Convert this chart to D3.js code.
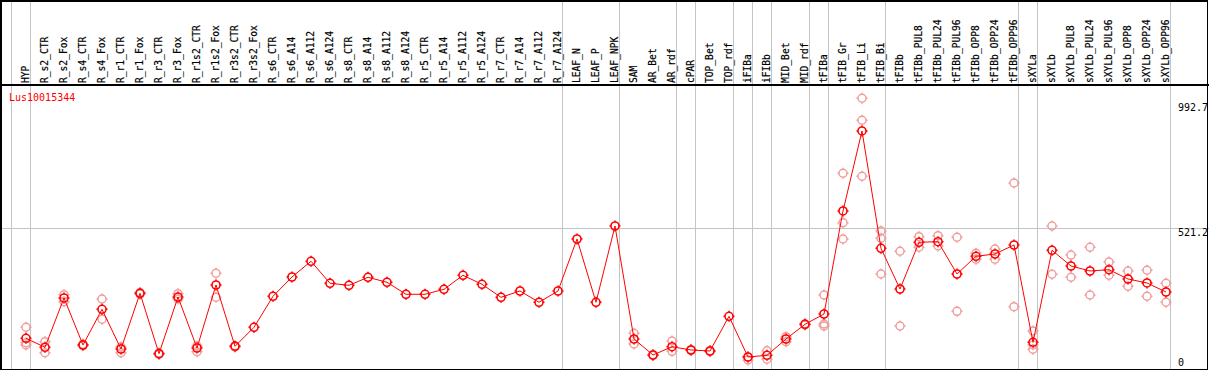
<!DOCTYPE html>
<html lang="en">
<head>
  <meta charset="UTF-8">
  <title>Lus10015344</title>
  <style>
    *{ margin:0; padding:0; box-sizing:border-box }
    html, body { width:1209px; height:370px; background:#fff; overflow:hidden }
    svg { display:block; font-family:"DejaVu Sans Mono", monospace }
    .grid  { stroke:#c4c4c4; stroke-width:1; shape-rendering:crispEdges }
    .frame { stroke:#000; stroke-width:1.5; shape-rendering:crispEdges; fill:none }
    .cat   { font-size:9.6px; fill:#000; stroke:#000; stroke-width:0.2 }
    .ytick { font-size:10px; fill:#000 }
    .rep   { fill:none; stroke:#f09a9a; stroke-width:1.4 }
    .mean  { fill:none; stroke:#ff0000; stroke-width:1.6 }
    .trace { fill:none; stroke:#ff0000; stroke-width:1 }
  </style>
  <script src="https://cdn.jsdelivr.net/npm/d3@7/dist/d3.min.js"></script>
</head>
<body>
  <svg id="chart"></svg>
  <script>
    const W = 1209, H = 370;

    // samples, left to right
    const categories = [
      "HYP","R_s2_CTR","R_s2_Fox","R_s4_CTR","R_s4_Fox","R_r1_CTR","R_r1_Fox","R_r3_CTR","R_r3_Fox",
      "R_r1s2_CTR","R_r1s2_Fox","R_r3s2_CTR","R_r3s2_Fox","R_s6_CTR","R_s6_A14","R_s6_A112","R_s6_A124",
      "R_s8_CTR","R_s8_A14","R_s8_A112","R_s8_A124","R_r5_CTR","R_r5_A14","R_r5_A112","R_r5_A124",
      "R_r7_CTR","R_r7_A14","R_r7_A112","R_r7_A124","LEAF_N","LEAF_P","LEAF_NPK","SAM","AR_Bet","AR_rdf",
      "cPAR","TOP_Bet","TOP_rdf","iFIBa","iFIBb","MID_Bet","MID_rdf","tFIBa","tFIB_Gr","tFIB_Li","tFIB_Bi",
      "tFIBb","tFIBb_PUL8","tFIBb_PUL24","tFIBb_PUL96","tFIBb_OPP8","tFIBb_OPP24","tFIBb_OPP96",
      "sXYLa","sXYLb","sXYLb_PUL8","sXYLb_PUL24","sXYLb_PUL96","sXYLb_OPP8","sXYLb_OPP24","sXYLb_OPP96"
    ];

    // mean expression per sample
    const means = [
      104.8, 70.8, 257.4, 79.5, 214.6, 64.3, 275.2, 46.6, 261.2,
      68.1, 306.6, 74.6, 146.5, 263.8, 336.9, 396.3, 313,
      305.4, 335.7, 316.8, 271.4, 271.4, 290.3, 343.3, 309.2,
      260, 283.9, 241.1, 283.9, 480.7, 241.1, 529.9, 102.2, 41.6, 73,
      60.6, 56.8, 188.1, 34.1, 40.5, 102.2, 157.8, 196.8, 586.7, 889.5, 445.5,
      291.4, 468.2, 470.5, 348.2, 415.2, 423.9, 458,
      89.7, 437.9, 378.5, 359.6, 364.5, 329.3, 314.2, 280.1
    ];

    // individual replicates (empty = single sample)
    const replicates = [
      [146.5, 88.2, 79.5], [92, 50.3], [269.9, 243.4], [77, 82], [253.6, 176.8], [50.3, 71.9], [272, 278], [44, 49], [273.7, 253.6],
      [75.7, 54.1], [350.9, 260], [72, 77], [], [], [], [], [],
      [], [], [], [], [], [], [], [],
      [], [], [], [], [], [], [], [123.8, 83.3], [40, 43], [94.6, 55.6],
      [59, 62], [55, 58], [], [22.7, 34], [57.9, 25.4], [110.9, 92], [155, 160], [268.7, 159, 151.4], [729.4, 542.4, 480.7], [1013.2, 930, 718], [511, 483.3, 348.2],
      [434.1, 151.4], [489.4, 449.3], [493.2, 454.2], [487.1, 207], [426.6, 403.9], [442.8, 403.9], [692.7, 224.5],
      [132.5, 63.2, 80], [529.9, 347.1], [420.1, 335.7], [449.3, 268.7], [393.6, 343.3], [359.6, 301.7], [362.2, 263.8], [313, 241.1]
    ];

    // group separators sit right after these sample indices (-1 = before the first)
    const separators = [-1, 0, 28, 31, 34, 35, 37, 38, 39, 41, 42, 45, 52, 53, 60];

    const yTicks = [0, 521.2, 992.7];
    const gridValues = [521.2];
    const geneName = "Lus10015344";

    const svg = d3.select("#chart").attr("width", W).attr("height", H);

    const x = d3.scalePoint().domain(categories).range([26, 1166]);
    const step = x.step();
    const y = d3.scaleLinear().domain([0, 992.7]).range([366, 103.7]);
    const headerY = 85;

    // grid
    svg.append("g").selectAll("line").data(separators).join("line")
      .attr("class", "grid")
      .attr("x1", d => Math.round(x(categories[0]) + d * step + 4) + 0.5)
      .attr("x2", d => Math.round(x(categories[0]) + d * step + 4) + 0.5)
      .attr("y1", 0).attr("y2", H);
    svg.append("g").selectAll("line").data(gridValues).join("line")
      .attr("class", "grid")
      .attr("x1", 0).attr("x2", W)
      .attr("y1", d => Math.round(y(d)) + 0.5).attr("y2", d => Math.round(y(d)) + 0.5);

    // frame
    svg.append("rect").attr("class", "frame").attr("x", 1).attr("y", 0.75).attr("width", 1206.5).attr("height", 368.5);
    svg.append("line").attr("class", "frame").attr("x1", 0).attr("x2", W).attr("y1", headerY).attr("y2", headerY);

    // sample labels
    svg.append("g").selectAll("text").data(categories).join("text")
      .attr("class", "cat")
      .attr("transform", d => `translate(${Math.round(x(d)) + 2.5},${headerY - 2}) rotate(-90)`)
      .text(d => d);

    // right-hand value labels
    svg.append("g").selectAll("text").data(yTicks).join("text")
      .attr("class", "ytick")
      .attr("x", 1178)
      .attr("y", d => Math.min(y(d) + 7.5, 366))
      .text(d => d);

    svg.append("text").attr("x", 9).attr("y", 101)
      .attr("fill", "#ff0000").attr("font-size", "10px").text(geneName);

    const marker = (cx, cy, r) =>
      `M${cx - r},${cy}a${r},${r} 0 1,0 ${2 * r},0a${r},${r} 0 1,0 ${-2 * r},0` +
      `M${cx},${cy - r - 1.5}v1.5M${cx},${cy + r}v1.5M${cx - r - 1.5},${cy}h1.5M${cx + r},${cy}h1.5`;

    // replicates
    const repPts = [];
    replicates.forEach((vals, i) => vals.forEach(v => repPts.push({ c: categories[i], v })));
    svg.append("g").selectAll("path").data(repPts).join("path")
      .attr("class", "rep")
      .attr("d", d => marker(x(d.c), y(d.v), 4));

    // mean trace
    const pts = categories.map((c, i) => ({ c, v: means[i] }));
    svg.append("path").datum(pts).attr("class", "trace")
      .attr("d", d3.line().x(d => x(d.c)).y(d => y(d.v)));
    svg.append("g").selectAll("path").data(pts).join("path")
      .attr("class", "mean")
      .attr("d", d => marker(x(d.c), y(d.v), 4));
  </script>
</body>
</html>
